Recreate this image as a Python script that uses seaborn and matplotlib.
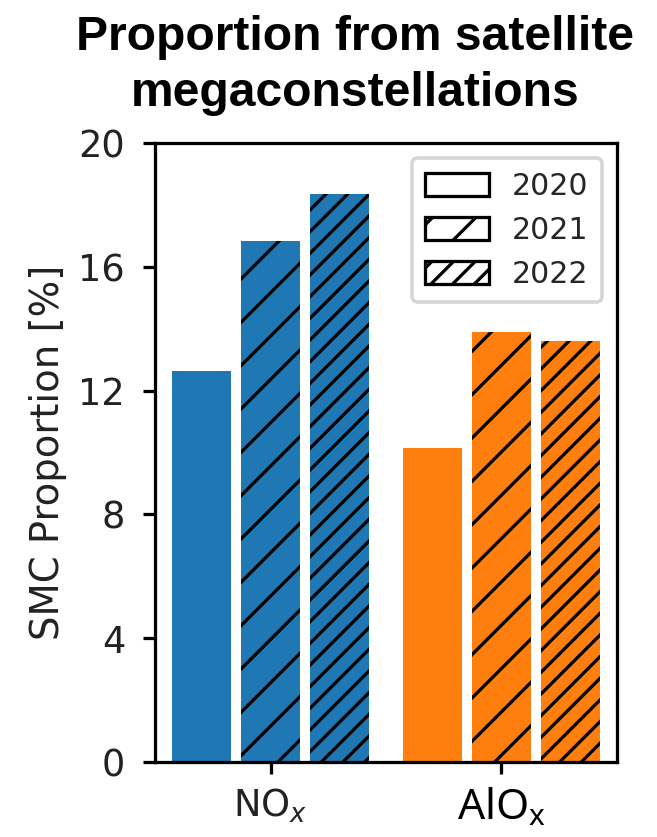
import matplotlib
matplotlib.use("Agg")
import matplotlib.pyplot as plt
from matplotlib.patches import Patch
import pandas as pd
import seaborn as sns

# SMC share of emissions by species and year
species = ["NO$_x$", "AlO$_\\mathrm{x}$"]
years = ["2020", "2021", "2022"]
nox_values = [12.65, 16.85, 18.35]
alox_values = [10.15, 13.9, 13.6]

species_colors = ["#1f77b4", "#ff7f0e"]
year_hatches = ["", "//", "////"]

rows = []
for sp, vals in zip(species, [nox_values, alox_values]):
    for yr, v in zip(years, vals):
        rows.append({"species": sp, "year": yr, "value": v})
df = pd.DataFrame(rows)

sns.set_style("ticks")
plt.rcParams["font.family"] = ["DejaVu Sans"]
plt.rcParams["hatch.linewidth"] = 0.9
plt.rcParams["axes.linewidth"] = 0.9
plt.rcParams["axes.edgecolor"] = "black"
plt.rcParams["mathtext.fontset"] = "custom"
plt.rcParams["mathtext.rm"] = "Noto Sans"
plt.rcParams["mathtext.it"] = "DejaVu Sans:italic"

DPI = 260
fig = plt.figure(figsize=(657 / DPI, 837 / DPI), dpi=DPI)
ax = fig.add_axes([0.236, 0.0896, 0.703, 0.7394])

sns.barplot(data=df, x="species", y="value", hue="year", order=species,
            hue_order=years, width=0.9, gap=0.15, errorbar=None,
            legend=False, ax=ax)

# colour each bar by species, hatch by year
for h_idx, container in enumerate(ax.containers):
    for s_idx, bar in enumerate(container):
        bar.set_facecolor(species_colors[s_idx])
        bar.set_edgecolor("black")
        bar.set_linewidth(0)
        bar.set_hatch(year_hatches[h_idx])

ax.set_ylim(0, 20)
ax.set_yticks([0, 4, 8, 12, 16, 20])
ax.set_xlim(-0.5, 1.5)
ax.set_xlabel("")
ax.set_ylabel("SMC Proportion [%]", fontsize=10.7, color="#222222", labelpad=3)
ax.tick_params(axis="y", labelsize=10.2, length=3.3, width=0.9,
               colors="black", labelcolor="#222222", pad=5)
ax.tick_params(axis="x", length=3.3, width=0.9, colors="black",
               labelcolor="#222222", pad=3.5)
xlabels = ax.get_xticklabels()
xlabels[0].set_fontsize(10.2)
xlabels[1].set_fontsize(11.8)
xlabels[1].set_family("Noto Sans")
xlabels[1].set_color("black")

handles = [Patch(facecolor="white", edgecolor="black", hatch=h, linewidth=0.9)
           for h in year_hatches]
ax.legend(handles, years, loc="upper right", fontsize=8.3, frameon=True,
          handlelength=2.15, handleheight=0.8, borderaxespad=0.5,
          labelspacing=0.5, handletextpad=0.75, borderpad=0.45)

title_kw = dict(ha="center", va="baseline", fontsize=13.3,
                fontweight="bold", family="Liberation Sans", color="black")
fig.text(0.541, 1 - 50 / 837, "Proportion from satellite", **title_kw)
fig.text(0.541, 1 - 106 / 837, "megaconstellations", **title_kw)

fig.savefig("out.png", dpi=DPI)
